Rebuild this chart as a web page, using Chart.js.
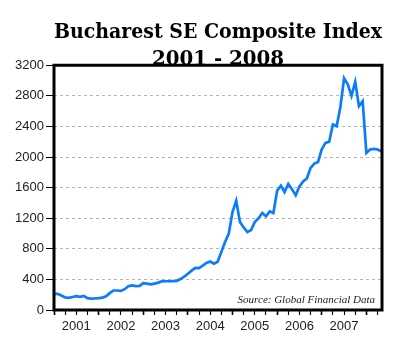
<!DOCTYPE html>
<html>
<head>
<meta charset="utf-8">
<script src="https://cdn.jsdelivr.net/npm/chart.js@4.4.1/dist/chart.umd.min.js"></script>
<style>
  html, body { margin: 0; padding: 0; background: #fff; }
  #wrap { width: 400px; height: 343px; }
</style>
</head>
<body>
<div id="wrap"><canvas id="bet"></canvas></div>
<script>
// month index 0 = Jan 2001, monthly closes through May 2008
var months = [];
for (var i = 0; i < 89; i++) months.push(i);

var indexValues = [
    210, 210, 190, 165, 160, 170, 180, 172, 185, 155, 148, 150,   // 2001
    155, 162, 178, 220, 255, 255, 250, 272, 310, 322, 312, 315,   // 2002
    352, 345, 335, 345, 358, 375, 376, 376, 378, 380, 405, 435,   // 2003
    475, 515, 550, 547, 580, 615, 633, 605, 630, 760, 890, 1000,  // 2004
    1280, 1429, 1150, 1080, 1020, 1045, 1150, 1200, 1268, 1225, 1290, 1268, // 2005
    1560, 1626, 1543, 1648, 1580, 1499, 1617, 1680, 1720, 1858, 1915, 1935, // 2006
    2100, 2185, 2200, 2425, 2403, 2650, 3030, 2950, 2800, 2983, 2665, 2731, // 2007
    2054, 2098, 2107, 2098, 2075                                   // 2008
];

var yearLabels = ["2001", "2002", "2003", "2004", "2005", "2006", "2007"];
var yTicks = [0, 400, 800, 1200, 1600, 2000, 2400, 2800, 3200];

var points = months.map(function (m, i) { return { x: m, y: indexValues[i] }; });

// thick black frame round the plot area plus the source note
var framePlugin = {
    id: "frame",
    afterDraw: function (chart) {
        var a = chart.chartArea, ctx = chart.ctx;
        ctx.save();
        ctx.strokeStyle = "#000";
        ctx.lineWidth = 3;
        ctx.strokeRect(a.left, a.top, a.right - a.left, a.bottom - a.top);
        ctx.font = "italic 11px 'Liberation Serif', serif";
        ctx.fillStyle = "#222";
        ctx.textAlign = "right";
        ctx.textBaseline = "alphabetic";
        ctx.fillText("Source: Global Financial Data", a.right - 7, a.bottom - 7);
        ctx.restore();
    }
};

var tickFont = { family: "Liberation Sans", size: 13 };

var ctx = document.getElementById("bet").getContext("2d");
var chart = new Chart(ctx, {
    type: "line",
    data: {
        datasets: [{
            label: "BET-C",
            data: points,
            borderColor: "#0b7dfa",
            borderWidth: 2.7,
            pointRadius: 0,
            tension: 0,
            fill: false
        }]
    },
    options: {
        responsive: true,
        maintainAspectRatio: false,
        animation: false,
        layout: { padding: { left: 0, right: 18, top: 0, bottom: 0 } },
        plugins: {
            legend: { display: false },
            tooltip: { enabled: false },
            title: {
                display: true,
                fullSize: false,
                text: ["Bucharest SE Composite Index", "2001 - 2008"],
                color: "#000",
                font: { family: "'DejaVu Serif', serif", size: 19.8, weight: "bold", lineHeight: 1.36 },
                padding: { top: 19, bottom: -7.6 }
            }
        },
        scales: {
            x: {
                type: "linear",
                min: 0,
                max: 88.2,
                afterBuildTicks: function (scale) {
                    var t = [];
                    for (var q = 0; q <= 87; q += 3) t.push({ value: q });
                    scale.ticks = t;
                },
                afterFit: function (scale) { scale.height = 33; },
                ticks: {
                    autoSkip: false,
                    maxRotation: 0,
                    padding: 4,
                    color: "#222",
                    font: tickFont,
                    callback: function (v) {
                        if ((v - 6) % 12 === 0) return yearLabels[(v - 6) / 12];
                        return "";
                    }
                },
                grid: {
                    drawOnChartArea: false,
                    drawTicks: true,
                    tickLength: 5,
                    tickColor: "#000",
                    tickWidth: function (c) { return c.tick && c.tick.value % 12 === 0 ? 1.6 : 1.1; }
                },
                border: { display: false }
            },
            y: {
                min: 0,
                max: 3200,
                afterBuildTicks: function (scale) {
                    scale.ticks = yTicks.map(function (v) { return { value: v }; });
                },
                afterFit: function (scale) { scale.width = 54; },
                ticks: {
                    padding: 2,
                    color: "#222",
                    font: tickFont,
                    callback: function (v) { return String(v); }
                },
                grid: {
                    color: "#b4b4b4",
                    lineWidth: 1,
                    tickLength: 8,
                    tickColor: "#000",
                    tickBorderDash: []
                },
                border: { display: false, dash: [3, 3] }
            }
        }
    },
    plugins: [framePlugin]
});
</script>
</body>
</html>
